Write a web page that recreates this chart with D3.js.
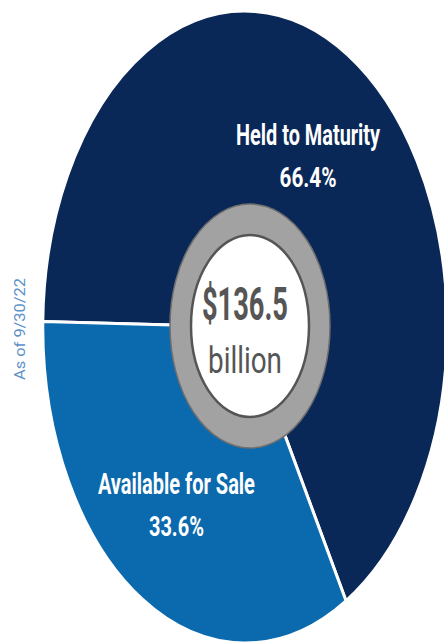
<!DOCTYPE html>
<html>
<head>
<meta charset="utf-8">
<script src="https://cdn.jsdelivr.net/npm/d3@7"></script>
<style>
  html, body { margin: 0; padding: 0; background: #fff; }
  svg { display: block; }
</style>
</head>
<body>
<div id="chart"></div>
<script>
// data
const categories = ["Held to Maturity", "Available for Sale"];
const shares = [66.4, 33.6];
const shareLabels = ["66.4%", "33.6%"];
const totalLabel = "$136.5";
const unitLabel = "billion";
const asOfLabel = "As of 9/30/22";

const width = 444;
const height = 643;
const cx = 245, cy = 327;
const R = 316;          // vertical radius
const sx = 0.64;        // horizontal squash of the picture
const colors = ["#0a2857", "#0b69ad"];

const svg = d3.select("#chart")
  .append("svg")
  .attr("width", width)
  .attr("height", height);

// pie, starting just left of the top-left so the split sits near 9 o'clock
const start = -89 * Math.PI / 180;
const pie = d3.pie().sort(null).startAngle(start).endAngle(start + 2 * Math.PI);
const arcs = pie(shares);

const arc = d3.arc().innerRadius(0).outerRadius(R);

const g = svg.append("g")
  .attr("transform", `translate(${cx},${cy}) scale(${sx},1)`);

g.selectAll("path")
  .data(arcs)
  .join("path")
  .attr("d", arc)
  .attr("fill", (d, i) => colors[i])
  .attr("stroke", "#fff")
  .attr("stroke-width", 3)
  .attr("vector-effect", "non-scaling-stroke");

// centre ring
const ringX = 250, ringY = 326;
svg.append("ellipse")
  .attr("cx", ringX).attr("cy", ringY)
  .attr("rx", 80).attr("ry", 122)
  .attr("fill", "#a2a2a2")
  .attr("stroke", "#6e6e6e")
  .attr("stroke-width", 1.5);

svg.append("ellipse")
  .attr("cx", ringX).attr("cy", ringY)
  .attr("rx", 59).attr("ry", 91)
  .attr("fill", "#fff")
  .attr("stroke", "#555")
  .attr("stroke-width", 2.5);

svg.append("text")
  .attr("x", 245).attr("y", 320)
  .attr("text-anchor", "middle")
  .attr("font-family", "Roboto, sans-serif")
  .attr("font-weight", 700)
  .attr("font-size", 46)
  .attr("fill", "#555")
  .attr("textLength", 86)
  .attr("lengthAdjust", "spacingAndGlyphs")
  .text(totalLabel);

svg.append("text")
  .attr("x", 245).attr("y", 373)
  .attr("text-anchor", "middle")
  .attr("font-family", "Roboto, sans-serif")
  .attr("font-weight", 400)
  .attr("font-size", 37)
  .attr("fill", "#555")
  .attr("textLength", 74)
  .attr("lengthAdjust", "spacingAndGlyphs")
  .text(unitLabel);

// slice labels, placed on each slice's mid-angle
const labelR = [194, 211];
const nameW = [144, 157];
const pctW = [57, 55];

arcs.forEach((d, i) => {
  const a = (d.startAngle + d.endAngle) / 2;
  const lx = cx + sx * labelR[i] * Math.sin(a);
  const ly = cy - labelR[i] * Math.cos(a);

  svg.append("text")
    .attr("x", lx).attr("y", ly - 15)
    .attr("text-anchor", "middle")
    .attr("font-family", "Roboto, sans-serif")
    .attr("font-weight", 700)
    .attr("font-size", 29)
    .attr("fill", "#fff")
    .attr("textLength", nameW[i])
    .attr("lengthAdjust", "spacingAndGlyphs")
    .text(categories[i]);

  svg.append("text")
    .attr("x", lx).attr("y", ly + 27)
    .attr("text-anchor", "middle")
    .attr("font-family", "Roboto, sans-serif")
    .attr("font-weight", 700)
    .attr("font-size", 28)
    .attr("fill", "#fff")
    .attr("textLength", pctW[i])
    .attr("lengthAdjust", "spacingAndGlyphs")
    .text(shareLabels[i]);
});

// date note on the left
svg.append("text")
  .attr("transform", "translate(25,329) rotate(-90)")
  .attr("text-anchor", "middle")
  .attr("font-family", "Roboto, sans-serif")
  .attr("font-size", 14)
  .attr("fill", "#5a90c8")
  .attr("textLength", 102)
  .attr("lengthAdjust", "spacingAndGlyphs")
  .text(asOfLabel);
</script>
</body>
</html>
